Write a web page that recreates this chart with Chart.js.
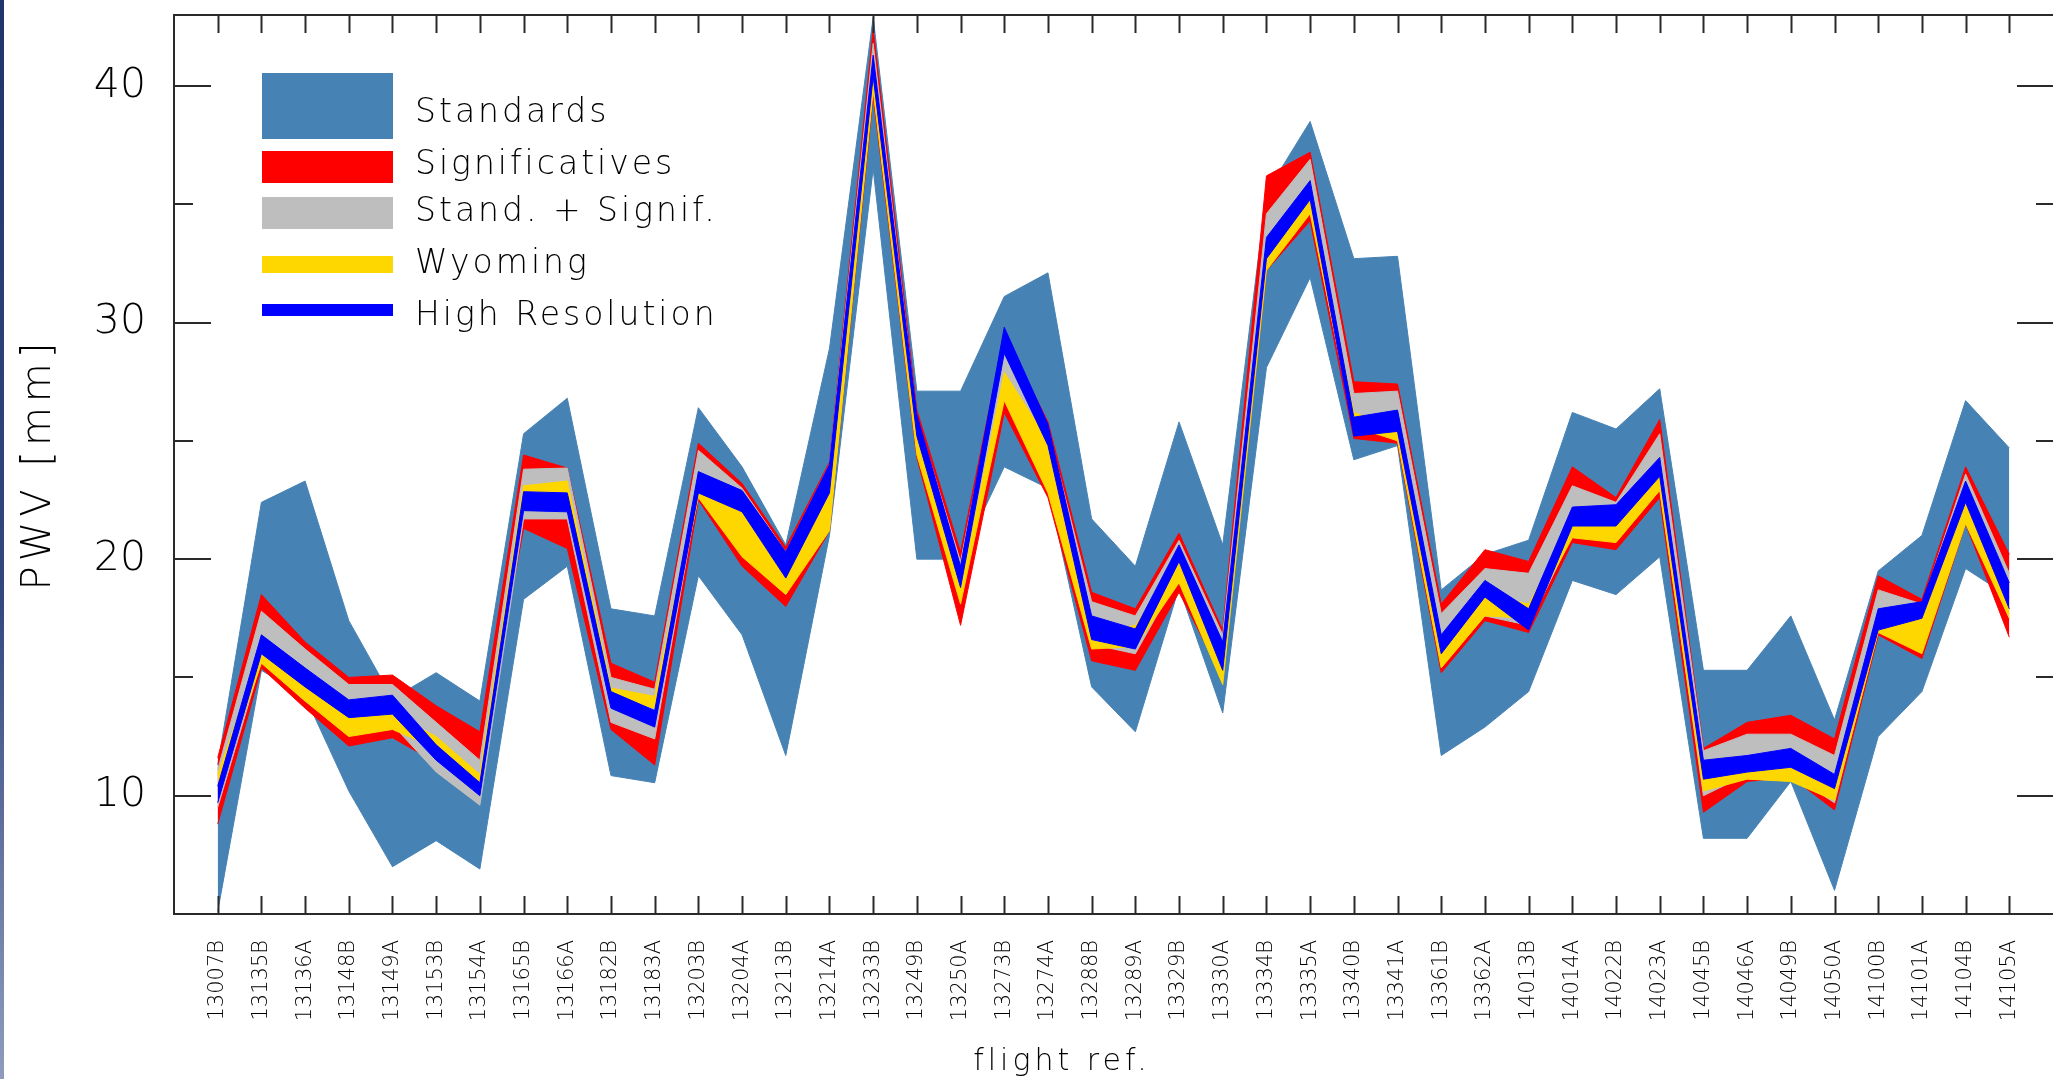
<!DOCTYPE html>
<html>
<head>
<meta charset="utf-8">
<script src="https://cdn.jsdelivr.net/npm/chart.js@4/dist/chart.umd.min.js"></script>
<style>
  html, body { margin: 0; padding: 0; background: #ffffff; overflow: hidden; }
  #wrap { position: relative; width: 2053px; height: 1079px; }
  #strip { position: absolute; left: 0; top: 0; width: 4px; height: 1079px;
           background: linear-gradient(to bottom, #22346c 0%, #33477f 55%, #8f9cbd 100%); }
  canvas { display: block; }
</style>
</head>
<body>
<div id="wrap">
  <canvas id="c" width="2053" height="1079"></canvas>
  <div id="strip"></div>
</div>
<script>
// ---------- DATA ----------
const flights = ['13007B','13135B','13136A','13148B','13149A','13153B','13154A','13165B','13166A','13182B',
  '13183A','13203B','13204A','13213B','13214A','13233B','13249B','13250A','13273B','13274A',
  '13288B','13289A','13329B','13330A','13334B','13335A','13340B','13341A','13361B','13362A',
  '14013B','14014A','14022B','14023A','14045B','14046A','14049B','14050A','14100B','14101A',
  '14104B','14105A'];

// Standards band (min / max)
const standardsMin = [5.1,15.3,14.2,10.2,7.0,8.1,6.9,18.3,19.7,10.85,
  10.55,19.3,16.8,11.7,21.0,36.5,20.0,20.0,23.9,23.0,
  14.6,12.7,18.8,13.5,28.1,31.9,24.2,24.8,11.7,12.9,
  14.4,19.1,18.5,20.1,8.2,8.2,10.6,6.0,12.5,14.4,
  19.6,18.4];
const standardsMax = [11.3,22.4,23.3,17.4,14.1,15.2,14.0,25.3,26.8,17.9,
  17.6,26.4,23.9,20.6,28.9,42.9,27.1,27.1,31.1,32.1,
  21.7,19.7,25.8,20.6,35.5,38.5,32.7,32.8,18.7,20.2,
  20.8,26.2,25.5,27.2,15.3,15.3,17.6,13.2,19.5,21.0,
  26.7,24.7];
// Significatives band
const significativesMin = [8.8,15.4,13.7,12.1,12.45,11.4,11.3,21.3,20.45,12.8,
  11.3,22.5,19.7,18.0,21.2,39.6,24.3,17.2,26.2,22.6,
  15.7,15.3,18.6,15.0,32.2,34.3,25.1,24.9,15.2,17.4,
  16.9,20.7,20.4,22.6,9.3,10.6,10.8,9.4,16.8,15.8,
  21.5,16.7];
const significativesMax = [11.6,18.5,16.5,15.0,15.1,13.8,12.7,24.4,23.85,15.6,
  14.8,24.9,23.2,20.5,24.1,42.4,26.3,20.3,29.5,25.8,
  18.6,17.9,21.1,17.0,36.2,37.2,27.5,27.4,18.1,20.4,
  19.9,23.9,22.6,25.9,12.0,13.1,13.4,12.4,19.3,18.3,
  23.9,20.2];
// Stand. + Signif. band
const combinedMin = [9.5,15.7,14.0,12.9,13.0,11.0,9.6,21.7,21.7,13.1,
  12.4,22.8,20.3,18.6,21.3,40.0,24.6,18.3,27.6,24.2,
  16.4,16.0,19.3,15.2,32.5,34.8,25.4,25.3,15.6,17.6,
  17.2,21.0,20.8,23.0,10.0,10.9,10.9,9.7,17.0,17.1,
  22.0,17.5];
const combinedMax = [11.1,17.8,16.2,14.7,14.7,13.1,11.5,23.8,23.85,15.0,
  14.5,24.6,23.0,20.3,24.0,41.8,26.0,19.9,29.3,25.5,
  18.2,17.6,20.8,16.8,34.6,36.9,27.0,27.1,17.7,19.6,
  19.4,23.1,22.4,25.3,11.9,12.6,12.6,11.7,18.7,18.1,
  23.6,19.4];
// Wyoming band
const wyomingMin = [10.2,15.6,14.0,12.5,12.8,12.0,10.5,22.8,22.8,14.2,
  13.7,22.6,20.1,18.5,21.2,39.8,24.4,18.1,26.7,22.8,
  16.2,16.3,19.0,14.7,32.2,34.6,25.6,25.0,15.4,17.6,
  17.5,20.9,20.7,22.9,10.2,10.7,10.6,9.8,16.9,16.0,
  21.5,17.5];
const wyomingMax = [10.9,16.2,14.8,13.3,13.45,12.5,10.9,23.1,23.3,14.55,
  14.2,23.2,22.0,19.3,22.9,40.5,25.5,18.8,27.9,25.0,
  16.8,17.2,19.9,15.6,32.8,35.3,26.2,25.5,16.1,18.5,
  18.1,21.5,21.5,23.6,10.8,11.1,11.2,10.3,17.3,17.6,
  22.4,17.9];
// High Resolution band
const highResMin = [9.7,16.0,14.6,13.3,13.45,11.5,10.0,22.05,22.0,13.7,
  12.9,22.8,22.0,19.2,22.8,40.4,25.2,18.8,28.7,24.8,
  16.6,16.2,19.9,15.3,32.7,35.2,25.2,25.4,16.0,18.4,
  17.0,21.4,21.4,23.5,10.7,11.0,11.2,10.3,17.0,17.5,
  22.4,17.9];
const highResMax = [10.4,16.8,15.4,14.05,14.25,12.15,10.55,22.85,22.8,14.4,
  13.6,23.7,22.9,20.3,24.0,41.3,26.1,19.7,29.8,25.7,
  17.6,17.05,20.6,16.5,33.6,36.0,26.0,26.3,16.8,19.1,
  17.9,22.2,22.3,24.3,11.5,11.7,12.0,10.9,17.9,18.2,
  23.3,19.0];

const seriesNames = ['Standards','Significatives','Stand. + Signif.','Wyoming','High Resolution'];
const yMajorTicks = [10,20,30,40];
const yMinorTicks = [15,25,35];

// ---------- STYLE ----------
const FONT = "'DejaVu Sans', 'Liberation Sans', sans-serif";
const TEXT = '#000000';
const colours = ['#4682b4', '#ff0000', '#bebebe', '#ffd700', '#0000ff'];
const bands = [
  [standardsMin, standardsMax],
  [significativesMin, significativesMax],
  [combinedMin, combinedMax],
  [wyomingMin, wyomingMax],
  [highResMin, highResMax]
];

const toPts = arr => arr.map((v, i) => ({x: i, y: v}));
const datasets = [];
bands.forEach((b, k) => {
  const ord = bands.length - k;
  datasets.push({
    label: seriesNames[k] + ' (min)', data: toPts(b[0]), fill: false,
    borderColor: colours[k], borderWidth: 1, pointRadius: 0, order: ord, isLower: true
  });
  datasets.push({
    label: seriesNames[k], data: toPts(b[1]), fill: '-1',
    backgroundColor: colours[k], borderColor: colours[k], borderWidth: 1,
    pointRadius: 0, order: ord
  });
});

const decor = {
  id: 'decor',
  afterDraw(chart) {
    const ctx = chart.ctx;
    const {left, right, top, bottom} = chart.chartArea;
    const xs = chart.scales.x, ys = chart.scales.y;
    ctx.save();
    ctx.strokeStyle = '#2a2a2a';
    ctx.lineWidth = 2;
    ctx.beginPath();
    ctx.moveTo(left, top); ctx.lineTo(right + 2, top);
    ctx.moveTo(left, top - 1); ctx.lineTo(left, bottom + 1);
    ctx.moveTo(left, bottom); ctx.lineTo(right + 2, bottom);
    // category ticks, top and bottom, pointing inward
    flights.forEach((f, i) => {
      const px = Math.round(xs.getPixelForValue(i)) + 0.5;
      ctx.moveTo(px, top); ctx.lineTo(px, top + 18);
      ctx.moveTo(px, bottom); ctx.lineTo(px, bottom - 18);
    });
    yMajorTicks.forEach(v => {
      const py = Math.round(ys.getPixelForValue(v));
      ctx.moveTo(left, py); ctx.lineTo(left + 37, py);
      ctx.moveTo(right, py); ctx.lineTo(right - 36, py);
    });
    yMinorTicks.forEach(v => {
      const py = Math.round(ys.getPixelForValue(v));
      ctx.moveTo(left, py); ctx.lineTo(left + 19, py);
      ctx.moveTo(right, py); ctx.lineTo(right - 17, py);
    });
    ctx.stroke();

    // legend
    const boxes = [[73, 66], [151, 32], [197, 32], [256, 17], [304, 12]];
    const baselines = [122, 174, 221, 273, 325];
    const entries = chart.data.datasets.filter(d => !d.isLower);
    ctx.font = "200 33px " + FONT;
    ctx.textBaseline = 'alphabetic';
    ctx.textAlign = 'left';
    entries.forEach((d, k) => {
      ctx.fillStyle = d.backgroundColor;
      ctx.fillRect(262, boxes[k][0], 131, boxes[k][1]);
      ctx.fillStyle = TEXT;
      try { ctx.letterSpacing = '3px'; } catch (e) {}
      ctx.fillText(d.label, 415, baselines[k]);
    });

    // axis titles
    ctx.fillStyle = TEXT;
    try { ctx.letterSpacing = '4px'; } catch (e) {}
    ctx.font = "200 30px " + FONT;
    ctx.textAlign = 'center';
    ctx.fillText('flight ref.', 1062, 1070);
    ctx.translate(50, 464);
    ctx.rotate(-Math.PI / 2);
    try { ctx.letterSpacing = '5px'; } catch (e) {}
    ctx.font = "200 40px " + FONT;
    ctx.fillText('PWV [mm]', 0, 0);
    ctx.restore();
  }
};

new Chart(document.getElementById('c'), {
  type: 'line',
  data: { datasets },
  plugins: [decor],
  options: {
    responsive: false,
    devicePixelRatio: 1,
    animation: false,
    layout: { padding: { top: 15, right: 0, left: 0, bottom: 0 } },
    plugins: { legend: { display: false }, tooltip: { enabled: false }, filler: { propagate: false } },
    elements: { line: { tension: 0 } },
    scales: {
      x: {
        type: 'linear', min: -1, max: 42, position: 'bottom',
        grid: { display: false }, border: { display: false },
        ticks: {
          stepSize: 1, autoSkip: false, minRotation: 90, maxRotation: 90, padding: 18,
          color: TEXT, font: { family: FONT, size: 21, weight: '200' },
          callback: v => (flights[v] !== undefined ? flights[v] : '')
        },
        afterFit: s => { s.height = 165; s.paddingLeft = 0; s.paddingRight = 0; }
      },
      y: {
        type: 'linear', min: 5, max: 43, position: 'left',
        grid: { display: false }, border: { display: false },
        ticks: {
          stepSize: 5, padding: 20, color: TEXT,
          font: { family: FONT, size: 41, weight: '200' },
          callback: v => (yMajorTicks.includes(v) ? String(v) : '')
        },
        afterFit: s => { s.width = 174; s.paddingTop = 0; s.paddingBottom = 0; }
      }
    }
  }
});
</script>
</body>
</html>
